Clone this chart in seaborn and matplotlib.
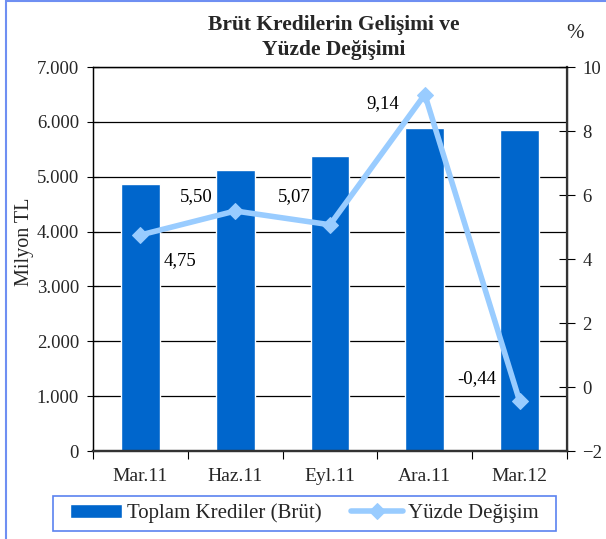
import numpy as np
import pandas as pd
import matplotlib
matplotlib.use("Agg")
import matplotlib.pyplot as plt
import seaborn as sns
from matplotlib.ticker import FuncFormatter, MultipleLocator, FixedLocator
from matplotlib.patches import Rectangle

categories = ["Mar.11", "Haz.11", "Eyl.11", "Ara.11", "Mar.12"]
krediler = [4870, 5120, 5375, 5885, 5850]
degisim = [4.75, 5.50, 5.07, 9.14, -0.44]
degisim_labels = ["4,75", "5,50", "5,07", "9,14", "-0,44"]
label_offsets = [(40, -26), (-39, 14), (-36, 28), (-42, -9), (-43, 22)]

sns.set_theme(style="white")
plt.rcParams["font.family"] = ["Liberation Serif", "DejaVu Serif"]

BAR = "#0066CC"
LINE = "#99CCFF"

fig = plt.figure(figsize=(6.06, 5.39), dpi=100)
ax = fig.add_axes([93/606, 1-451/539, (567-93)/606, (451-67)/539])

df = pd.DataFrame({"cat": categories, "val": krediler})
sns.barplot(data=df, x="cat", y="val", color=BAR, width=0.41, ax=ax,
            saturation=1, label="Toplam Krediler (Brüt)")
ax.set_ylim(0, 7000)
ax.set_xlim(-0.5, 4.5)
ax.yaxis.set_major_locator(MultipleLocator(1000))
ax.yaxis.set_major_formatter(FuncFormatter(lambda v, p: f"{int(v):,}".replace(",", ".")))
ax.grid(axis="y", color="black", linewidth=0.9)
ax.set_axisbelow(True)
ax.set_xlabel("")
ax.set_ylabel("")
ax.tick_params(axis="y", direction="inout", length=8, width=0.8, labelsize=13.5, left=True, pad=6, color="black")
ax.tick_params(axis="x", which="major", length=0, labelsize=14, pad=12)
ax.xaxis.set_minor_locator(FixedLocator(np.arange(-0.5, 5, 1.0)))
ax.tick_params(axis="x", which="minor", direction="out", length=6, width=0.8, bottom=True, color="black")
for s in ax.spines.values():
    s.set_color("black")
    s.set_linewidth(0.9)
ax.spines["bottom"].set_linewidth(1.6)
ax.spines["bottom"].set_color("#333333")

fig.text(24/606, 1-242/539, "Milyon TL", rotation=90, ha="center", va="center", fontsize=14.5)

ax2 = ax.twinx()
ldf = pd.DataFrame({"x": np.arange(len(categories)), "y": degisim})
sns.lineplot(data=ldf, x="x", y="y", ax=ax2, color=LINE, linewidth=4, marker="D",
             markersize=8, markeredgecolor=LINE, sort=False, label="Yüzde Değişim")
ax2.set_ylim(-2, 10)
ax2.set_xlim(-0.5, 4.5)
ax2.yaxis.set_major_locator(MultipleLocator(2))
ax2.tick_params(axis="y", direction="inout", length=12, width=0.8, labelsize=13.5, right=True, pad=5, color="black")
ax2.set_ylabel("")
ax2.set_xlabel("")
for s in ax2.spines.values():
    s.set_color("black")
    s.set_linewidth(0.9)
ax2.spines["right"].set_color("#333333")
ax2.spines["right"].set_linewidth(1.6)
ax2.spines["bottom"].set_linewidth(1.6)
ax2.spines["bottom"].set_color("#333333")

for i, (v, lab, off) in enumerate(zip(degisim, degisim_labels, label_offsets)):
    ax2.annotate(lab, (i, v), xytext=off, textcoords="offset pixels",
                 ha="center", va="center", fontsize=13.5, color="black")

h1, l1 = ax.get_legend_handles_labels()
h2, l2 = ax2.get_legend_handles_labels()
if ax2.get_legend() is not None:
    ax2.get_legend().remove()
if ax.get_legend() is not None:
    ax.get_legend().remove()
leg = fig.legend(h1 + h2, l1 + l2, loc="center left", bbox_to_anchor=(70/606, 1-513.5/539),
                 ncol=2, fontsize=15, frameon=False, handlelength=2.5,
                 columnspacing=1.4, handletextpad=0.25, borderpad=0, borderaxespad=0)
fig.patches.append(Rectangle((53/606, 1-531/539), (556-53)/606, 35/539, transform=fig.transFigure,
                             fill=False, edgecolor="#5B83F0", linewidth=1.2))

fig.text(334/606, 1-30/539, "Brüt Kredilerin Gelişimi ve", ha="center", va="baseline",
         fontsize=15.5, fontweight="bold")
fig.text(334/606, 1-55/539, "Yüzde Değişimi", ha="center", va="baseline",
         fontsize=15.5, fontweight="bold")
fig.text(575/606, 1-34/539, "%", ha="center", va="center", fontsize=15)

fig.patches.append(Rectangle((6/606, -0.1), 1.2, 1.1 - 1/539, transform=fig.transFigure,
                             fill=False, edgecolor="#6F8FF2", linewidth=1.5))

fig.savefig("out.png", dpi=100)
